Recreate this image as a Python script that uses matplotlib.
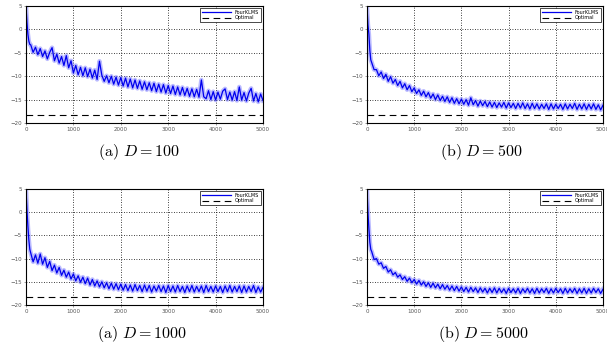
import matplotlib
matplotlib.use("Agg")
import matplotlib.pyplot as plt

plt.rcParams['mathtext.fontset'] = 'cm'

# iteration index of the samples
iters = [0, 20, 40, 60, 80] + list(range(100, 5001, 50))

# excess MSE (dB)
mse_d100 = [5.0, 1.5, -1.0, -2.5, -3.2,
            -3.3, -4.9, -3.8, -5.4, -4.1, -5.8, -4.6, -6.3, -4.9, -3.9,
            -6.7, -5.3, -7.2, -5.8, -7.7, -5.6, -8.2, -6.7, -9.3, -7.7,
            -9.7, -8.1, -9.9, -8.2, -10.1, -8.5, -10.4, -8.7, -10.7, -6.8,
            -9.8, -11.1, -9.9, -11.4, -10.0, -11.7, -10.2, -11.9, -10.3, -12.1,
            -10.4, -12.3, -10.6, -12.5, -10.8, -12.6, -11.0, -12.8, -11.2, -12.9,
            -11.4, -13.1, -11.5, -13.3, -11.7, -13.4, -11.8, -13.6, -12.0, -13.7,
            -12.1, -13.9, -12.3, -14.0, -12.4, -14.1, -12.6, -14.3, -12.7, -14.4,
            -12.8, -14.5, -10.8, -14.4, -14.8, -13.1, -15.0, -13.3, -15.1, -13.4,
            -14.9, -13.2, -12.7, -15.0, -13.4, -15.1, -13.3, -15.2, -12.3, -15.1,
            -13.5, -15.3, -13.6, -12.6, -15.3, -13.7, -15.5, -13.8, -15.2]

mse_d500 = [5.0, 1.0, -1.0, -4.5, -6.5,
            -7.1, -8.6, -8.6, -9.9, -9.1, -10.5, -9.6, -11.1, -10.1, -11.5,
            -10.7, -12.0, -11.1, -12.5, -11.6, -12.9, -12.0, -13.3, -12.5, -13.7,
            -12.9, -14.1, -13.2, -14.4, -13.5, -14.7, -13.8, -15.0, -14.0, -15.2,
            -14.3, -15.4, -14.4, -15.6, -14.6, -15.8, -14.8, -15.9, -14.9, -16.0,
            -15.0, -16.2, -14.6, -16.1, -15.2, -16.4, -15.3, -16.3, -15.4, -16.5,
            -15.5, -16.6, -15.6, -16.7, -15.7, -16.6, -15.6, -16.8, -15.7, -16.7,
            -15.8, -16.9, -15.8, -16.8, -15.7, -16.9, -15.9, -17.0, -15.8, -16.9,
            -15.9, -17.0, -16.0, -16.9, -15.9, -17.1, -15.9, -17.0, -16.0, -16.9,
            -16.0, -17.1, -15.9, -17.0, -16.0, -16.9, -15.8, -17.1, -16.0, -17.0,
            -15.9, -17.1, -16.0, -17.0, -15.9, -17.1, -16.1, -17.2, -16.2]

mse_d1000 = [5.0, 0.5, -3.0, -6.0, -8.0,
             -8.8, -10.7, -9.2, -11.0, -9.0, -11.2, -9.8, -11.9, -10.6, -12.6,
             -11.4, -13.1, -11.9, -13.6, -12.5, -14.0, -12.9, -14.4, -13.3, -14.8,
             -13.7, -15.1, -14.0, -15.4, -14.2, -15.7, -14.5, -15.9, -14.8, -16.1,
             -15.0, -16.3, -15.2, -16.5, -15.3, -16.6, -15.4, -16.7, -15.5, -16.8,
             -15.6, -16.9, -15.7, -17.0, -15.6, -16.9, -15.8, -17.1, -15.7, -17.0,
             -15.8, -17.2, -15.9, -17.0, -15.8, -17.1, -15.9, -17.3, -15.8, -17.1,
             -15.9, -17.2, -15.8, -17.1, -16.0, -17.3, -15.9, -17.1, -15.8, -17.2,
             -16.0, -17.1, -15.9, -17.3, -15.8, -17.1, -16.0, -17.2, -15.9, -17.1,
             -16.0, -17.3, -15.9, -17.1, -15.8, -17.2, -16.0, -17.1, -15.9, -17.3,
             -15.9, -17.2, -16.0, -17.1, -15.8, -17.3, -16.1, -17.2, -16.2]

mse_d5000 = [5.0, 0.0, -3.5, -6.5, -8.0,
             -8.5, -10.2, -10.0, -11.2, -10.9, -12.1, -11.7, -12.9, -12.4, -13.5,
             -13.0, -14.0, -13.5, -14.5, -13.9, -14.9, -14.2, -15.2, -14.5, -15.5,
             -14.7, -15.7, -15.0, -16.0, -15.2, -16.2, -15.3, -16.3, -15.5, -16.5,
             -15.6, -16.6, -15.8, -16.8, -15.9, -16.9, -16.0, -17.0, -16.1, -17.1,
             -16.2, -17.2, -16.2, -17.1, -16.3, -17.3, -16.3, -17.2, -16.4, -17.4,
             -16.4, -17.3, -16.3, -17.4, -16.4, -17.3, -16.5, -17.5, -16.4, -17.3,
             -16.5, -17.4, -16.4, -17.5, -16.5, -17.3, -16.4, -17.4, -16.5, -17.5,
             -16.4, -17.4, -16.5, -17.3, -16.4, -17.5, -16.5, -17.4, -16.4, -17.3,
             -16.5, -17.5, -16.4, -17.4, -16.5, -17.3, -16.4, -17.5, -16.5, -17.4,
             -16.4, -17.5, -16.5, -17.4, -16.4, -17.3, -16.5, -17.5, -16.6]

optimal = -18.3
captions = [r"$\mathrm{(a)}\ D = 100$", r"$\mathrm{(b)}\ D = 500$",
            r"$\mathrm{(a)}\ D = 1000$", r"$\mathrm{(b)}\ D = 5000$"]
series = [mse_d100, mse_d500, mse_d1000, mse_d5000]

W, H = 607, 356
fig = plt.figure(figsize=(W / 100, H / 100), dpi=100)

# axes boxes in pixels: left, top, right, bottom
boxes = [(26, 6, 263, 123), (367, 6, 603, 123),
         (26, 189, 263, 305), (367, 189, 603, 305)]
cap_pos = [(139, 152), (481, 152), (142, 334), (483, 334)]

for k in range(4):
    l, t, r, b = boxes[k]
    ax = fig.add_axes([l / W, 1 - b / H, (r - l) / W, (b - t) / H])
    y = series[k]
    ax.plot(iters, y, color='#7878ff', lw=3.2, alpha=0.5)
    ax.plot(iters, y, color='#0000ee', lw=0.9, label='FourKLMS')
    ax.axhline(optimal, color='black', lw=0.8, ls=(0, (6, 4)), label='Optimal')
    ax.set_xlim(0, 5000)
    ax.set_ylim(-20, 5)
    ax.set_xticks(range(0, 5001, 1000))
    ax.set_yticks([5, 0, -5, -10, -15, -20])
    ax.grid(True, color='black', ls=(0, (1, 2)), lw=0.6)
    ax.tick_params(labelsize=4, colors='#555555', length=1.5, width=0.4, pad=1.5)
    for s in ax.spines.values():
        s.set_linewidth(0.8)
    ax.legend(loc='upper right', fontsize=3.5, handlelength=6, fancybox=False,
              framealpha=1, edgecolor='black', borderpad=0.3, labelspacing=0.1,
              borderaxespad=0.5).get_frame().set_linewidth(0.5)
    fig.text(cap_pos[k][0] / W, 1 - cap_pos[k][1] / H, captions[k],
             ha='center', va='center', fontsize=11.5)

fig.savefig('out.png', dpi=100)
